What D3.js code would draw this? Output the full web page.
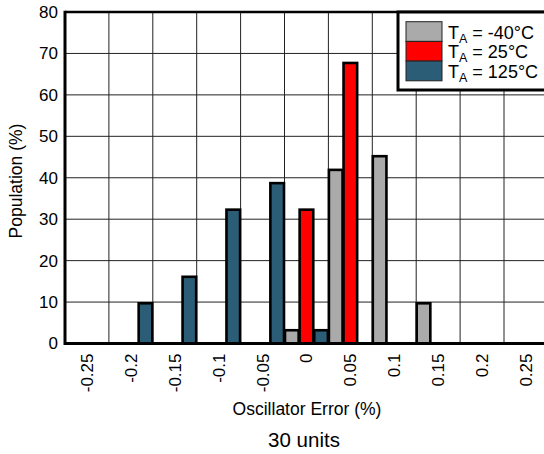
<!DOCTYPE html>
<html>
<head>
<meta charset="utf-8">
<script src="https://cdn.jsdelivr.net/npm/d3@7"></script>
<style>
  html, body { margin: 0; padding: 0; background: #fff; }
  svg { display: block; font-family: "Liberation Sans", Arial, sans-serif; }
</style>
</head>
<body>
<svg id="chart" width="544" height="454"></svg>
<script>
const categories = ["-0.25", "-0.2", "-0.15", "-0.1", "-0.05", "0", "0.05", "0.1", "0.15", "0.2", "0.25"];
const seriesKeys = ["m40", "p25", "p125"];
const seriesTemps = ["-40°C", "25°C", "125°C"];
const valuesM40 = [0, 0, 0, 0, 0, 3.2, 41.9, 45.2, 9.7, 0, 0];
const valuesP25 = [0, 0, 0, 0, 0, 32.3, 67.7, 0, 0, 0, 0];
const valuesP125 = [0, 9.7, 16.1, 32.3, 38.7, 3.2, 0, 0, 0, 0, 0];
const yTicks = [0, 10, 20, 30, 40, 50, 60, 70, 80];
const xTitle = "Oscillator Error (%)";
const yTitle = "Population (%)";
const footer = "30 units";

(function () {
const colors = { m40: "#aaaaaa", p25: "#ff0000", p125: "#2b5d77" };
const seriesValues = { m40: valuesM40, p25: valuesP25, p125: valuesP125 };

const svg = d3.select("#chart");
const mLeft = 65, mTop = 12, mBottom = 343.5, bandW = 43.9;
const mRight = mLeft + bandW * categories.length;

const x = d3.scaleBand().domain(categories).range([mLeft, mRight]).padding(0);
const xs = d3.scaleBand().domain(seriesKeys).range([0, x.bandwidth()]).padding(0);
const y = d3.scaleLinear().domain([0, 80]).range([mBottom, mTop]);

// grid
const grid = svg.append("g");
grid.selectAll("line.h").data(yTicks.slice(1, -1)).join("line")
  .attr("x1", mLeft).attr("x2", mRight)
  .attr("y1", d => y(d)).attr("y2", d => y(d))
  .attr("stroke", "#222").attr("stroke-width", 1);
grid.selectAll("line.v").data(categories.slice(1)).join("line")
  .attr("x1", d => x(d)).attr("x2", d => x(d))
  .attr("y1", mTop).attr("y2", mBottom)
  .attr("stroke", "#222").attr("stroke-width", 1);

// bars
const barData = [];
seriesKeys.forEach(k => {
  seriesValues[k].forEach((v, i) => {
    if (v > 0) barData.push({ key: k, cat: categories[i], value: v });
  });
});
svg.append("g").selectAll("rect").data(barData).join("rect")
  .attr("x", d => x(d.cat) + xs(d.key) + 0.5)
  .attr("width", xs.bandwidth() - 1)
  .attr("y", d => y(d.value))
  .attr("height", d => y(0) - y(d.value))
  .attr("fill", d => colors[d.key])
  .attr("stroke", "#000").attr("stroke-width", 2.6);

// frame
svg.append("line").attr("x1", mLeft).attr("x2", mRight).attr("y1", mTop).attr("y2", mTop)
  .attr("stroke", "#000").attr("stroke-width", 2.5);
svg.append("line").attr("x1", mLeft).attr("x2", mRight).attr("y1", mBottom).attr("y2", mBottom)
  .attr("stroke", "#000").attr("stroke-width", 3);
svg.append("line").attr("x1", mLeft).attr("x2", mLeft).attr("y1", mTop - 1.2).attr("y2", mBottom + 1.5)
  .attr("stroke", "#000").attr("stroke-width", 3);

// y axis
const yAxis = svg.append("g").attr("transform", `translate(${mLeft},0)`)
  .call(d3.axisLeft(y).tickValues(yTicks).tickSize(0).tickPadding(7));
yAxis.select(".domain").remove();
yAxis.selectAll("text").attr("font-size", 17).attr("fill", "#000")
  .attr("font-family", "Liberation Sans, Arial, sans-serif");

// x axis
const xAxis = svg.append("g").attr("transform", `translate(0,${mBottom})`)
  .call(d3.axisBottom(x).tickSize(0));
xAxis.select(".domain").remove();
xAxis.selectAll("text")
  .attr("font-size", 17).attr("fill", "#000")
  .attr("font-family", "Liberation Sans, Arial, sans-serif")
  .attr("text-anchor", "end")
  .attr("transform", "rotate(-90)")
  .attr("x", -10).attr("y", 0).attr("dy", "0.35em");

// titles
svg.append("text").attr("x", 307).attr("y", 415).attr("text-anchor", "middle")
  .attr("font-size", 17.5).text(xTitle);
svg.append("text").attr("x", 304).attr("y", 447).attr("text-anchor", "middle")
  .attr("font-size", 20.5).text(footer);
svg.append("text").attr("transform", "translate(22,181) rotate(-90)")
  .attr("text-anchor", "middle").attr("font-size", 17.5).text(yTitle);

// legend
const lg = svg.append("g");
lg.append("rect").attr("x", 398).attr("y", mTop).attr("width", 170).attr("height", 78)
  .attr("fill", "#fff").attr("stroke", "#000").attr("stroke-width", 3);
seriesKeys.forEach((k, i) => {
  const yy = 21.7 + i * 19.7;
  lg.append("rect").attr("x", 406).attr("y", yy).attr("width", 36).attr("height", 19.7)
    .attr("fill", colors[k]).attr("stroke", "#222").attr("stroke-width", 1);
  const t = lg.append("text").attr("x", 448).attr("y", yy + 17).attr("font-size", 18);
  t.append("tspan").text("T");
  t.append("tspan").attr("font-size", 12.5).attr("dy", 4).text("A");
  t.append("tspan").attr("dy", -4).text(" = " + seriesTemps[i]);
});
})();
</script>
</body>
</html>
